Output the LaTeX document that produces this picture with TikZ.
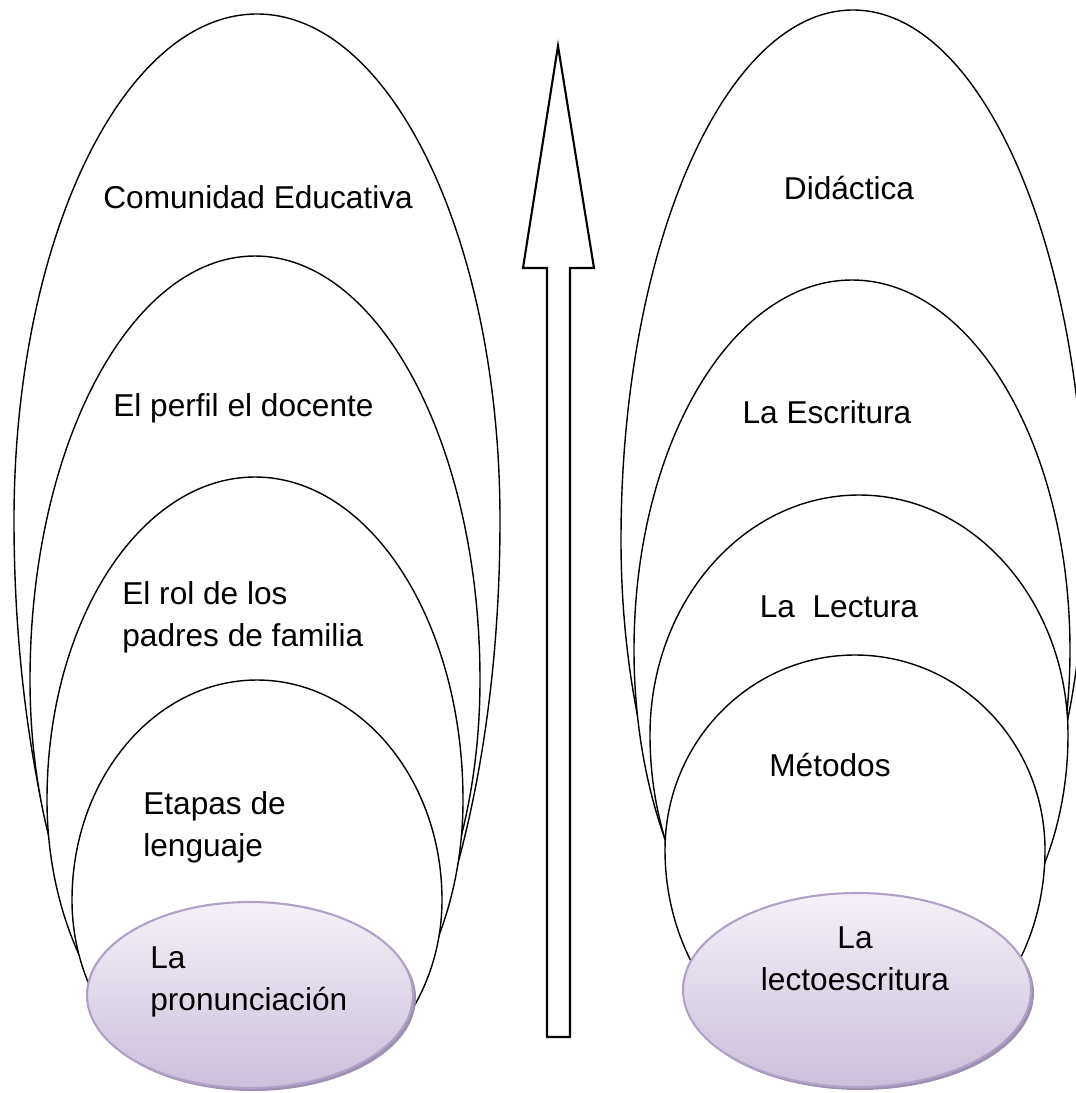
\documentclass[tikz,border=0pt]{standalone}
\usepackage{fontspec}
\setmainfont{Liberation Sans}
\usetikzlibrary{shadows}
\definecolor{baseline}{HTML}{B2A1C7}
\definecolor{basetop}{HTML}{F4F1F8}
\definecolor{basebot}{HTML}{CBBFDA}
\definecolor{baseshadow}{HTML}{9E90B2}

\begin{document}
\begin{tikzpicture}[
  x=0.02cm,y=-0.02cm,
  petal/.style={draw=black,fill=white,line width=0.8pt},
  base/.style={draw=baseline,line width=1.2pt,top color=basetop,bottom color=basebot,
    drop shadow={shadow xshift=0.06cm,shadow yshift=-0.06cm,fill=baseshadow,opacity=1}},
  lbl/.style={inner sep=0pt,font=\fontsize{18}{24}\selectfont},
  arrowline/.style={draw=black,fill=white,line width=1.2pt}
  ]
\useasboundingbox (0,0) rectangle (1076,1093);
\clip (0,0) rectangle (1076,1093);
% #1 centre x, #2 top, #3 widest y, #4 half width, #5 lower radius, #6 cut
\def\petal#1#2#3#4#5#6{%
  \begin{scope}
  \clip (0,0) rectangle (1076,#6);
  \filldraw[petal] ({#1-#4},#3)
    arc[start angle=180,end angle=360,x radius=#4,y radius={#3-#2}]
    arc[start angle=0,end angle=180,x radius=#4,y radius=#5] -- cycle;
  \end{scope}}

% left stack
\petal{257}{14}{520}{243}{610}{1045}
\petal{255}{256}{680}{225}{390}{1045}
\petal{255}{477}{800}{208}{290}{1045}
\petal{257}{680}{900}{185}{201}{1040}
\path[base] (250,995) ellipse [x radius=163,y radius=93];

% right stack
\petal{853}{10}{540}{232}{473}{1040}
\petal{852}{280}{650}{218}{368}{1040}
\petal{859}{495}{735}{209}{279}{1040}
\petal{855}{655}{850}{190}{220}{1040}
\path[base] (857,990) ellipse [x radius=174,y radius=97];

% arrow
\def\shaftL{547}
\def\shaftR{570}
\def\headL{523}
\def\headR{594}
\def\headY{268}
\def\tipY{46}
\def\footY{1037}
\draw[arrowline] (\shaftL,\footY) -- (\shaftL,\headY) -- (\headL,\headY)
  -- (558,\tipY) -- (\headR,\headY) -- (\shaftR,\headY) -- (\shaftR,\footY) -- cycle;

% labels
\node[lbl,anchor=west] (comunidad) at (103,197) {Comunidad Educativa};
\node[lbl,anchor=west] (perfil) at (113,408) {El perfil el docente};
\node[lbl,anchor=west,align=left] (rol) at (122,617) {El rol de los\\padres de familia};
\node[lbl,anchor=west,align=left] (etapas) at (143,827) {Etapas de\\lenguaje};
\node[lbl,anchor=west,align=left] (pronun) at (150,982) {La\\pronunciación};

\node[lbl] (didactica) at (849,188) {Didáctica};
\node[lbl] (escritura) at (827,412) {La Escritura};
\node[lbl] (lectura) at (839,607) {La\ \ Lectura};
\node[lbl] (metodos) at (830,765) {Métodos};
\node[lbl,align=center] (lecto) at (855,959) {La\\lectoescritura};
\end{tikzpicture}
\end{document}
